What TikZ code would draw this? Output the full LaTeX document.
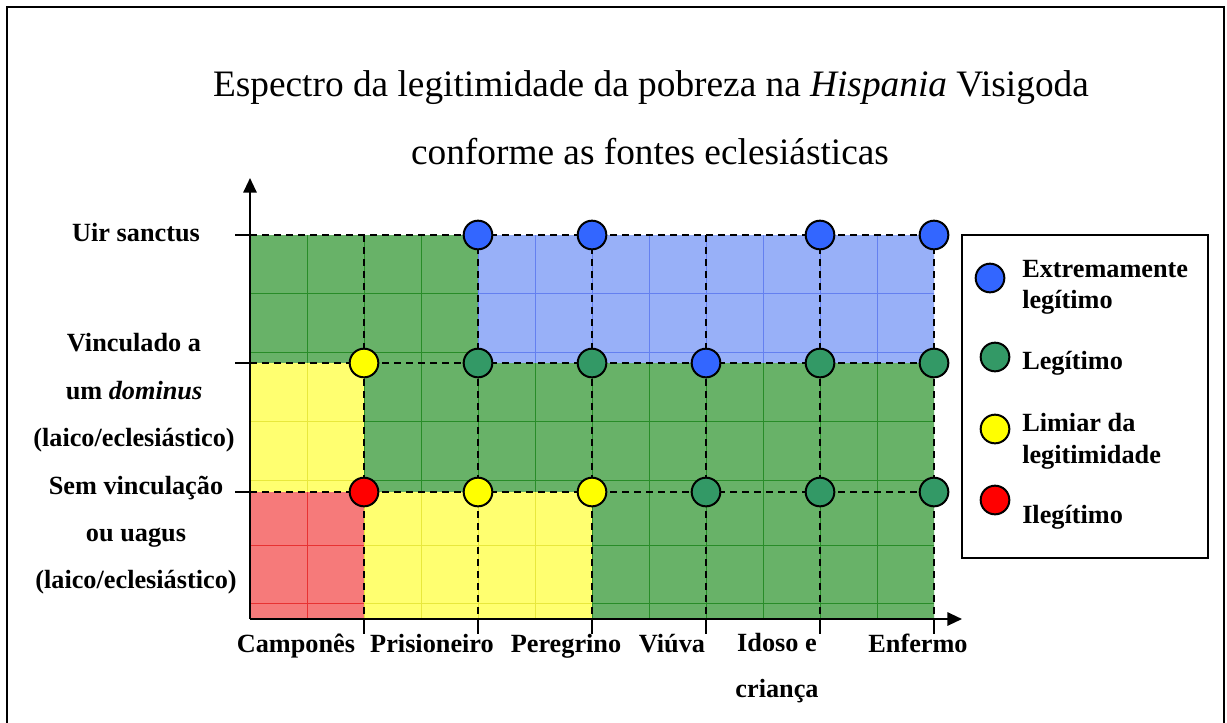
\documentclass[tikz,border=0pt]{standalone}
\usepackage{fontspec}
\setmainfont{Liberation Serif}
\usetikzlibrary{arrows.meta}

\definecolor{fillgreen}{RGB}{104,178,104}
\definecolor{fillblue}{RGB}{152,176,248}
\definecolor{fillyellow}{RGB}{255,255,112}
\definecolor{fillred}{RGB}{246,122,122}
\definecolor{linegreen}{RGB}{40,140,40}
\definecolor{lineblue}{RGB}{100,128,240}
\definecolor{lineyellow}{RGB}{232,232,60}
\definecolor{linered}{RGB}{232,50,50}
\definecolor{dotblue}{RGB}{51,102,255}
\definecolor{dotgreen}{RGB}{51,153,102}
\definecolor{dotyellow}{RGB}{255,255,0}
\definecolor{dotred}{RGB}{255,0,0}

\tikzset{
  axis/.style={line width=1.5pt, -{Triangle[length=11pt, width=10pt]}},
  guide/.style={line width=1.6pt, dash pattern=on 5.5pt off 3.5pt},
  tick/.style={line width=1.4pt},
  dot/.style={circle, draw, line width=1.5pt, minimum size=21.5pt, inner sep=0pt},
  lbl/.style={font=\fontsize{19.7}{24}\selectfont\bfseries, inner sep=0pt},
  ttl/.style={font=\fontsize{28}{34}\selectfont, inner sep=0pt}
}

\begin{document}
\begin{tikzpicture}[x=0.75pt, y=-0.75pt]
    \useasboundingbox (0,0) rectangle (1227,722);

    % Outer frame
    \draw[line width=1.5pt] (7,730) -- (7,7) -- (1224,7) -- (1224,730);

    % Title
    \node[ttl] (title1) at (651,88) {Espectro da legitimidade da pobreza na \textit{Hispania} Visigoda};
    \node[ttl] (title2) at (650,152) {conforme as fontes eclesiásticas};

    % Coloured regions with their faint grid
    \foreach \fc/\lc/\xa/\ya/\xb/\yb in {
        fillgreen/linegreen/250/235/478/363,
        fillblue/lineblue/478/235/934/363,
        fillyellow/lineyellow/250/363/364/492,
        fillgreen/linegreen/364/363/934/492,
        fillred/linered/250/492/364/619,
        fillyellow/lineyellow/364/492/592/619,
        fillgreen/linegreen/592/492/934/619}{
      \begin{scope}
        \clip (\xa,\ya) rectangle (\xb,\yb);
        \fill[\fc] (\xa,\ya) rectangle (\xb,\yb);
        \foreach \gx in {307,364,...,934}
          \draw[\lc, line width=0.6pt] (\gx,\ya) -- (\gx,\yb);
        \foreach \gy in {293,352,421,480,545,603}
          \draw[\lc, line width=0.6pt] (\xa,\gy) -- (\xb,\gy);
      \end{scope}
    }

    % Axes
    \coordinate (O) at (250,619);
    \coordinate (ytip) at (250,178);
    \coordinate (xtip) at (962,619);
    \draw[axis] (O) -- (ytip);
    \draw[axis] (O) -- (xtip);

    % Row and column lines
    \foreach \r/\y in {1/235, 2/363, 3/492} {
      \coordinate (row\r) at (250,\y);
      \coordinate (rowend\r) at (934,\y);
      \coordinate (rowtick\r) at (235,\y);
      \draw[guide] (row\r) -- (rowend\r);
      \draw[tick] (rowtick\r) -- (row\r);
    }
    \foreach \c/\x in {1/364, 2/478, 3/592, 4/706, 5/820, 6/934} {
      \coordinate (col\c) at (\x,235);
      \coordinate (colend\c) at (\x,619);
      \coordinate (coltick\c) at (\x,634);
      \draw[guide] (col\c) -- (colend\c);
      \draw[tick] (colend\c) -- (coltick\c);
    }

    % Points
    \foreach \c/\x in {2/478, 3/592, 5/820, 6/934}
      \node[dot, fill=dotblue] (p1\c) at (\x,235) {};
    \foreach \c/\x/\col in {1/364/dotyellow, 2/478/dotgreen, 3/592/dotgreen,
                            4/706/dotblue, 5/820/dotgreen, 6/934/dotgreen}
      \node[dot, fill=\col] (p2\c) at (\x,363) {};
    \foreach \c/\x/\col in {1/364/dotred, 2/478/dotyellow, 3/592/dotyellow,
                            4/706/dotgreen, 5/820/dotgreen, 6/934/dotgreen}
      \node[dot, fill=\col] (p3\c) at (\x,492) {};

    % Labels of the vertical axis
    \node[lbl] (uir) at (136,233) {Uir sanctus};
    \node[lbl, align=center, font=\fontsize{19.7}{35.5}\selectfont\bfseries] (vinc) at (134,393)
      {Vinculado a\\um \textit{dominus}\\(laico/eclesiástico)};
    \node[lbl, align=center, font=\fontsize{19.7}{35.5}\selectfont\bfseries] (sem) at (136,535)
      {Sem vinculação\\ou uagus\\(laico/eclesiástico)};

    % Labels of the horizontal axis
    \node[lbl, anchor=base] (campo) at (296,652) {Camponês};
    \node[lbl, anchor=base] (prisi) at (432,652) {Prisioneiro};
    \node[lbl, anchor=base] (pereg) at (566,652) {Peregrino};
    \node[lbl, anchor=base] (viuva) at (672,652) {Viúva};
    \node[lbl, align=center, font=\fontsize{19.7}{35}\selectfont\bfseries] (idoso) at (777,668)
      {Idoso e\\criança};
    \node[lbl, anchor=base] (enfer) at (918,652) {Enfermo};

    % Legend
    \draw[line width=1.2pt] (962,235) rectangle (1208,558);
    \node[dot, fill=dotblue] (leg1) at (990,278) {};
    \node[dot, fill=dotgreen] (leg2) at (995,357) {};
    \node[dot, fill=dotyellow] (leg3) at (995,429) {};
    \node[dot, fill=dotred] (leg4) at (995,500) {};
    \node[lbl, anchor=west, align=left, font=\fontsize{19.7}{23}\selectfont\bfseries] (legt1) at (1022,287)
      {Extremamente\\legítimo};
    \node[lbl, anchor=west] (legt2) at (1022,363) {Legítimo};
    \node[lbl, anchor=west, align=left, font=\fontsize{19.7}{24}\selectfont\bfseries] (legt3) at (1022,441)
      {Limiar da\\legitimidade};
    \node[lbl, anchor=west] (legt4) at (1022,517) {Ilegítimo};
\end{tikzpicture}
\end{document}
